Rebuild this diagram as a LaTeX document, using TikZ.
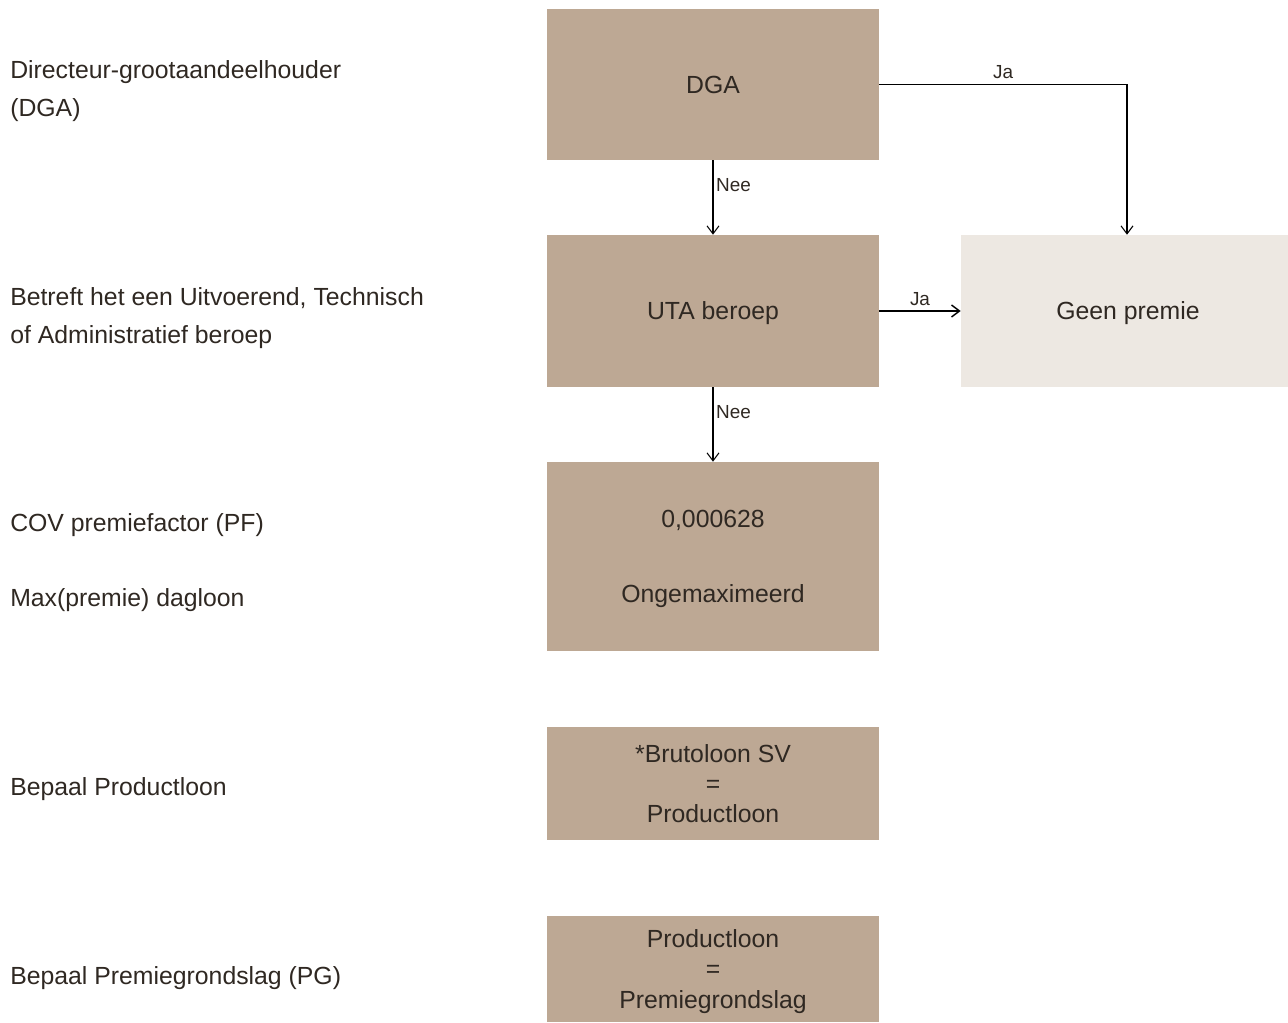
\documentclass[tikz,border=0pt]{standalone}
\usepackage{fontspec}
\setmainfont{Liberation Sans}
\usetikzlibrary{arrows.meta}
\definecolor{boxc}{HTML}{BDA894}
\definecolor{lightc}{HTML}{EDE8E2}
\definecolor{txt}{HTML}{2F2822}
\begin{document}
\begin{tikzpicture}[x=0.75pt,y=-0.75pt,
  mainfont/.style={font=\fontsize{18.6}{22.5}\selectfont},
  boxnode/.style={fill=boxc,draw=none,inner sep=0pt,text=txt,align=center,mainfont,minimum width=249pt,text depth=0pt},
  lightnode/.style={fill=lightc,draw=none,inner sep=0pt,text=txt,align=center,mainfont,minimum width=250.5pt,text depth=0pt},
  sidelabel/.style={anchor=west,inner sep=0pt,text=txt,align=left,font=\fontsize{18.6}{28.5}\selectfont},
  arr/.style={draw=black,line width=0.8pt,-{Straight Barb[length=6pt,width=9pt]}},
  edgelabel/.style={text=txt,font=\fontsize{14.2}{17}\selectfont,inner sep=2pt}]
\useasboundingbox (0,0) rectangle (1288,1023);

% boxes
\node[boxnode,minimum height=113.25pt] (dga) at (713,84.5) {DGA};
\node[boxnode,minimum height=114pt] (uta) at (713,311) {UTA beroep};
\node[lightnode,minimum height=114pt] (geen) at (1128,311) {Geen premie};
\node[boxnode,minimum height=141.75pt] (cov) at (713,556.5) {0,000628\\[33.75pt]Ongemaximeerd};
\node[boxnode,minimum height=84.75pt] (bruto) at (713,783.5) {*Brutoloon SV\\=\\Productloon};
\node[boxnode,minimum height=79.5pt,font=\fontsize{18.6}{23}\selectfont] (prod) at (713,969) {Productloon\\=\\Premiegrondslag};

% side labels
\node[sidelabel] (l1) at (10,91.5) {Directeur-grootaandeelhouder\\(DGA)};
\node[sidelabel] (l2) at (10,318.5) {Betreft het een Uitvoerend, Technisch\\of Administratief beroep};
\node[sidelabel] (l3) at (10,525.5) {COV premiefactor (PF)};
\node[sidelabel] (l4) at (10,600.5) {Max(premie) dagloon};
\node[sidelabel] (l5) at (10,789.5) {Bepaal Productloon};
\node[sidelabel] (l6) at (10,978.5) {Bepaal Premiegrondslag (PG)};

% connectors
\coordinate (corner) at (1127,84.5);
\draw[arr] (dga) -- node[edgelabel,anchor=west,pos=0.33] {Nee} (uta);
\draw[arr] (uta) -- node[edgelabel,anchor=west,pos=0.33] {Nee} (cov);
\draw[arr] (dga.east) -- node[edgelabel,above,pos=0.5,yshift=2.2pt] {Ja} (corner) -- (corner |- geen.north);
\draw[arr,line width=1.1pt] (uta.east) -- node[edgelabel,above,pos=0.5,yshift=1.5pt] {Ja} (geen.west);
\end{tikzpicture}
\end{document}
